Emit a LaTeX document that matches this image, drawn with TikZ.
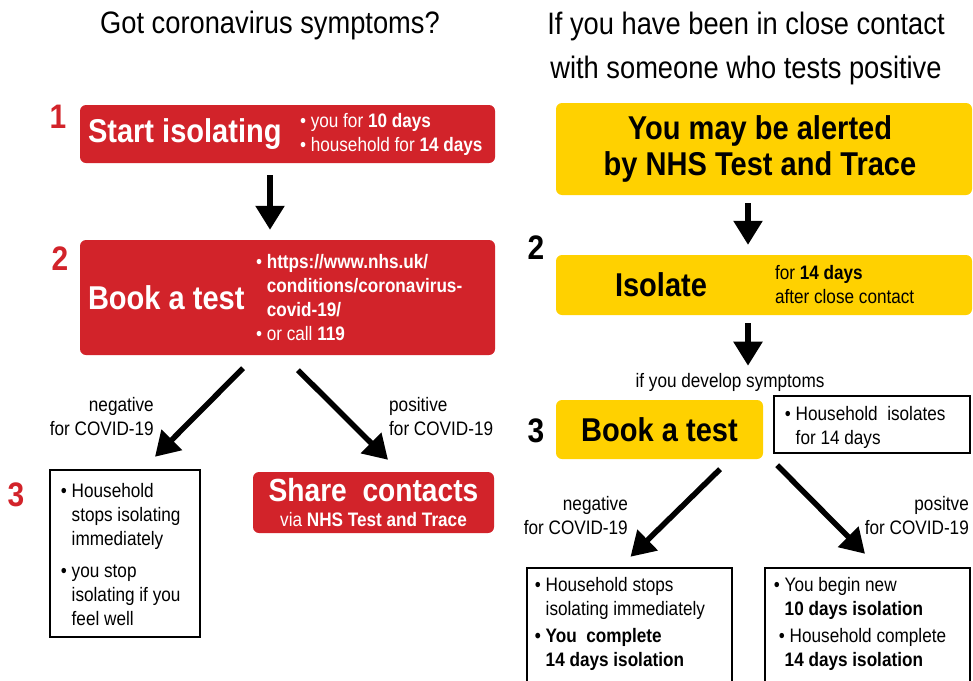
\documentclass[tikz,border=0pt]{standalone}
\usepackage{fontspec}
\setmainfont{Liberation Sans}[FakeStretch=0.88]
\usepackage{xcolor}
\usetikzlibrary{positioning}
\usetikzlibrary{arrows.meta}
\definecolor{nhsred}{HTML}{D2232A}
\definecolor{nhsyellow}{HTML}{FFD100}
\newcommand{\fs}[2]{\fontsize{#1}{#2}\selectfont}

\begin{document}
\begin{tikzpicture}[
		x=1pt, y=-1pt,
		redbox/.style={
			rectangle,
			fill=nhsred,
			rounded corners=6pt,
			inner sep=0pt
		},
		yellowbox/.style={
			rectangle,
			fill=nhsyellow,
			rounded corners=6pt,
			inner sep=0pt
		},
		textbox/.style={
			rectangle,
			draw,
			line width=2.5pt,
			fill=white,
			inner sep=0pt
		},
		heading/.style={font=\fs{33}{36}\bfseries, inner sep=0pt},
		small/.style={font=\fs{19.5}{24}, inner sep=0pt},
		stepnum/.style={font=\fs{34}{38}\bfseries, inner sep=0pt},
		bigarrow/.style={line width=5.5pt, -{Triangle[length=24pt, width=28pt]}}
	]
		\useasboundingbox (0,0) rectangle (973,680);
		\clip (0,0) rectangle (973,680);

		\node[font=\fs{31}{43}] (T1) at (270,25) {Got coronavirus symptoms?};
		\node[font=\fs{31}{44}, align=center] (T2) at (746,48) {If you have been in close contact\\with someone who tests positive};

		% left column
		\draw node[redbox, minimum width=415, minimum height=58](S1) at (287.5,134) {};
		\node[heading, text=white, anchor=west] (S1h) at ([xshift=8] S1.west) {Start isolating};
		\node[small, text=white, anchor=west, align=left] (S1b) at ([xshift=220] S1.west) {• you for \textbf{10 days}\\• household for \textbf{14 days}};
		\node[stepnum, text=nhsred] (N1) at (58,117) {1};

		\draw node[redbox, minimum width=415, minimum height=115](B1) at (287.5,297.5) {};
		\node[heading, text=white, anchor=west] (B1h) at ([xshift=8] B1.west) {Book a test};
		\node[small, text=white, anchor=west, align=left] (B1b) at ([xshift=176] B1.west) {• \textbf{https://www.nhs.uk/}\\\phantom{• }\textbf{conditions/coronavirus-}\\\phantom{• }\textbf{covid-19/}\\• or call \textbf{119}};
		\node[stepnum, text=nhsred] (N2) at (60,259) {2};

		\draw node[textbox, minimum width=150, minimum height=167](L3) at (125,553.5) {};
		\node[small, anchor=north west, align=left] (L3t) at ([xshift=12, yshift=-14] L3.north west) {• Household\\\phantom{• }stops isolating\\\phantom{• }immediately\\[8pt]• you stop\\\phantom{• }isolating if you\\\phantom{• }feel well};
		\node[stepnum, text=nhsred] (N3) at (16,495) {3};

		\draw node[redbox, minimum width=241, minimum height=61](SC) at (373.5,502.5) {};
		\node[font=\fs{32}{36}\bfseries, text=white, inner sep=0pt] (SCh) at ([yshift=12] SC.center) {Share\ \ contacts};
		\node[small, text=white] (SCs) at ([yshift=-17] SC.center) {via \textbf{NHS Test and Trace}};

		\node[small, anchor=east, align=right] (neg1) at (154,417) {negative\\for COVID-19};
		\node[small, anchor=west, align=left] (pos1) at (389,417) {positive\\for COVID-19};

		\draw[bigarrow] ([xshift=-17.5, yshift=-12] S1.south) -- ([xshift=-17.5, yshift=10] B1.north);
		\draw[bigarrow] ([xshift=-44.5, yshift=-13] B1.south) -- ([xshift=30, yshift=12] L3.north);
		\draw[bigarrow] ([xshift=10.5, yshift=-15] B1.south) -- ([xshift=14.5, yshift=12] SC.north);

		% right column
		\draw node[yellowbox, minimum width=416, minimum height=92](Y1) at (764,149) {};
		\node[heading, align=center] (Y1h) at ([xshift=-4] Y1.center) {You may be alerted\\by NHS Test and Trace};

		\draw node[yellowbox, minimum width=416, minimum height=60](Y2) at (764,285) {};
		\node[heading, anchor=west] (Y2h) at ([xshift=59] Y2.west) {Isolate};
		\node[small, anchor=west, align=left] (Y2b) at ([xshift=219] Y2.west) {for \textbf{14 days}\\after close contact};
		\node[stepnum] (M2) at (536,248) {2};

		\node[small] (dev) at (730,382) {if you develop symptoms};

		\draw node[yellowbox, minimum width=207, minimum height=59](Y3) at (659.5,429.5) {};
		\node[heading] (Y3h) at (Y3.center) {Book a test};
		\node[stepnum] (M3) at (536,431) {3};

		\draw node[textbox, minimum width=196, minimum height=57](HH) at (872,424.5) {};
		\node[small, anchor=west, align=left] (HHt) at ([xshift=12, yshift=-3] HH.west) {• Household\ \ isolates\\\phantom{• }for 14 days};

		\node[small, anchor=east, align=right] (neg2) at (628,516) {negative\\for COVID-19};
		\node[small, anchor=east, align=right] (pos2) at (969,516) {positve\\for COVID-19};

		\draw node[textbox, minimum width=205, minimum height=152](NR) at (629.5,644) {};
		\node[small, anchor=north west, align=left] (NRt) at ([xshift=9, yshift=-10] NR.north west) {\fs{19.5}{25}• Household stops\\\phantom{• }isolating immediately\\[3pt]\textbf{• You\ \ complete}\\\phantom{• }\textbf{14 days isolation}};

		\draw node[textbox, minimum width=205, minimum height=152](PR) at (867.5,644) {};
		\node[small, anchor=north west, align=left] (PRt) at ([xshift=10, yshift=-10] PR.north west) {\fs{19.5}{25}• You begin new\\\phantom{• }\textbf{10 days isolation}\\[3pt]\hspace*{5pt}• Household complete\\\phantom{• }\textbf{14 days isolation}};

		\draw[bigarrow] ([xshift=-16, yshift=-8] Y1.south) -- ([xshift=-16, yshift=10] Y2.north);
		\draw[bigarrow] ([xshift=-16, yshift=-8] Y2.south) -- ([xshift=18, yshift=7] dev.north);
		\draw[bigarrow] ([xshift=60.5, yshift=-10] Y3.south) -- ([xshift=1, yshift=10] NR.north);
		\draw[bigarrow] ([xshift=14, yshift=-6] Y3.south east) -- ([xshift=-2.5, yshift=13] PR.north);
	\end{tikzpicture}
\end{document}
